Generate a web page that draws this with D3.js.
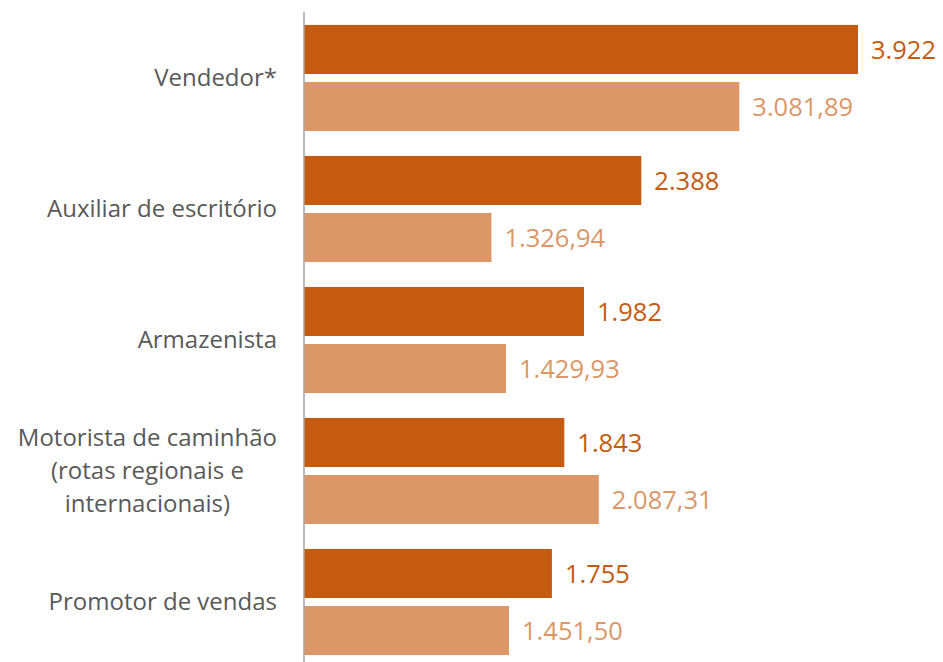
<!DOCTYPE html>
<html><head><meta charset="utf-8">
<script src="https://cdn.jsdelivr.net/npm/d3@7"></script>
<style>body{margin:0;background:#fff;}svg{display:block;}</style>
</head><body><svg id="c" width="943" height="662"></svg>
<script>
const categories = ["Vendedor*", "Auxiliar de escritório", "Armazenista", "Motorista de caminhão\n(rotas regionais e\ninternacionais)", "Promotor de vendas"];
const seriesA = [3922, 2388, 1982, 1843, 1755];
const seriesB = [3081.89, 1326.94, 1429.93, 2087.31, 1451.50];
const labelsA = ["3.922", "2.388", "1.982", "1.843", "1.755"];
const labelsB = ["3.081,89", "1.326,94", "1.429,93", "2.087,31", "1.451,50"];
const colors = ["#C55A11", "#DB9768"];

const svg = d3.select("#c");
const font = "'Segoe UI', 'Open Sans', sans-serif";
const x = d3.scaleLinear().domain([0, 3922]).range([304, 858]);
const y = d3.scaleBand().domain(categories).range([12.5, 667.5]).paddingInner(0.19).paddingOuter(0.095);
const inner = d3.scaleBand().domain([0, 1]).range([0, y.bandwidth()]).paddingInner(0.14);

const data = categories.map((c, i) => ({c, vals: [seriesA[i], seriesB[i]], labs: [labelsA[i], labelsB[i]]}));

const g = svg.selectAll("g.cat").data(data).join("g").attr("class", "cat")
  .attr("transform", d => `translate(0,${y(d.c)})`);

g.selectAll("rect").data(d => d.vals.map((v, k) => ({v, k}))).join("rect")
  .attr("x", x(0)).attr("y", d => inner(d.k))
  .attr("width", d => x(d.v) - x(0)).attr("height", inner.bandwidth())
  .attr("fill", d => colors[d.k]);

g.selectAll("text.val").data(d => d.vals.map((v, k) => ({v, k, l: d.labs[k]}))).join("text")
  .attr("class", "val")
  .attr("x", d => x(d.v) + 13).attr("y", d => inner(d.k) + inner.bandwidth() / 2)
  .attr("dy", "0.36em")
  .attr("font-family", font).attr("font-size", 25.5)
  .attr("fill", d => colors[d.k]).text(d => d.l);

// category labels
g.each(function(d) {
  const lines = d.c.split("\n");
  const cy = y.bandwidth() / 2;
  const lh = 33;
  const t = d3.select(this).append("text")
    .attr("font-family", font).attr("font-size", 24).attr("fill", "#595959");
  lines.forEach((ln, i) => {
    t.append("tspan").attr("x", 0).attr("y", cy + (i - (lines.length - 1) / 2) * lh).attr("dy", "0.35em").text(ln);
  });
  if (lines.length === 1) {
    t.attr("text-anchor", "end").selectAll("tspan").attr("x", 277);
  } else {
    const w = t.node().getBBox().width;
    t.attr("text-anchor", "middle").selectAll("tspan").attr("x", 277 - w / 2);
  }
});

svg.append("line").attr("x1", x(0)).attr("x2", x(0)).attr("y1", 12).attr("y2", 662)
  .attr("stroke", "#A6A6A6").attr("stroke-width", 1.5);
</script></body></html>
